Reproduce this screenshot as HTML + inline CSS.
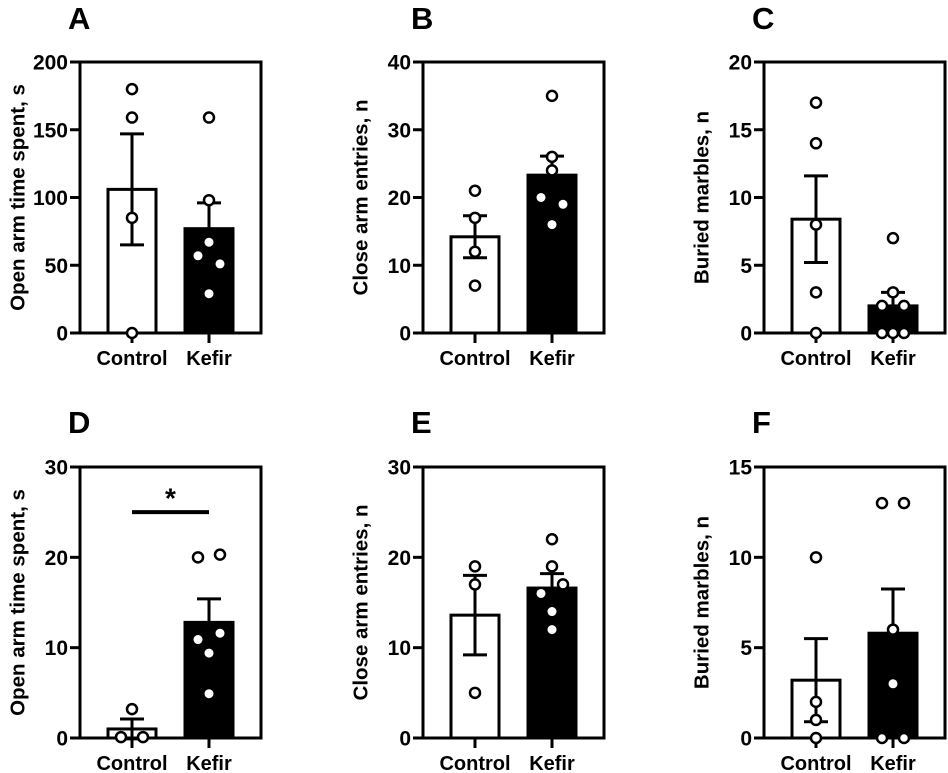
<!DOCTYPE html>
<html><head><meta charset="utf-8"><style>
html,body{margin:0;padding:0;background:#fff;}
svg{display:block;font-family:"Liberation Sans",Arial,sans-serif;font-weight:bold;}
</style></head><body>
<svg id="fig" width="948" height="773" viewBox="0 0 948 773" xmlns="http://www.w3.org/2000/svg"></svg>
<script>
// ---- data ----
const categories = ["Control", "Kefir"];
const panelLetters = ["A","B","C","D","E","F"];
const yTitles = ["Open arm time spent, s","Close arm entries, n","Buried marbles, n","Open arm time spent, s","Close arm entries, n","Buried marbles, n"];
const yMaxes = [200, 40, 20, 30, 30, 15];
const yTickSteps = [50, 10, 5, 10, 10, 5];
const meansA = [106, 77];  const semA = [41, 19];
const meansB = [14.2, 23.3]; const semB = [3.1, 2.8];
const meansC = [8.4, 2.0]; const semC = [3.2, 1.0];
const meansD = [1.0, 12.8]; const semD = [1.1, 2.6];
const meansE = [13.6, 16.6]; const semE = [4.4, 1.6];
const meansF = [3.2, 5.8]; const semF = [2.3, 2.45];
// individual points: [value, swarm slot (-1 left, 0 centre, 1 right)]
const ptsA = [[[180,0],[159,0],[85,0],[0,0]], [[159,0],[98,0],[67,0],[57,-1],[51,1],[29,0]]];
const ptsB = [[[21,0],[17,0],[12,0],[7,0]], [[35,0],[26,0],[24,0],[20,-1],[19,1],[16,0]]];
const ptsC = [[[17,0],[14,0],[8,0],[3,0],[0,0]], [[7,0],[3,0],[2,-1],[2,1],[0,-1],[0,0],[0,1]]];
const ptsD = [[[3.2,0],[0.1,-1],[0.1,1]], [[20,-1],[20.3,1],[11.6,1],[10.9,-1],[9.4,0],[4.9,0]]];
const ptsE = [[[19,0],[17,0],[5,0]], [[22,0],[19,0],[17,1],[16,-1],[14,0],[12,0]]];
const ptsF = [[[10,0],[2,0],[1,0],[0,0]], [[13,-1],[13,1],[6,0],[3,0],[0,-1],[0,1]]];
const sigBarD = [25, 27.3]; // line value, asterisk value

const means=[meansA,meansB,meansC,meansD,meansE,meansF];
const sems=[semA,semB,semC,semD,semE,semF];
const pts=[ptsA,ptsB,ptsC,ptsD,ptsE,ptsF];

const NS="http://www.w3.org/2000/svg";
const svg=document.getElementById('fig');
function mk(tag,attrs,parent){const e=document.createElementNS(NS,tag);for(const k in attrs)e.setAttribute(k,attrs[k]);(parent||svg).appendChild(e);return e;}

const lefts=[80,423,764];
const tops=[62,467];
const W=181,H=271;
for(let p=0;p<6;p++){
  const col=p%3,row=Math.floor(p/3);
  const x0=lefts[col],y0=tops[row],y1=y0+H;
  const g=mk('g',{});
  
  
  const ys=v=>y1-v/yMaxes[p]*H;
  const xc=i=>x0+52+i*77;
  const L=mk('text',{x:x0-12,y:row?433:29,'font-size':31,'text-anchor':'start'},g);
  L.textContent=panelLetters[p];
  
  
  const cy=(y0+y1)/2, tx=x0-61;
  const T=mk('text',{x:tx,y:cy,'font-size':20.5,'text-anchor':'middle',transform:`rotate(-90 ${tx} ${cy})`,'dominant-baseline':'middle'},g);
  T.textContent=yTitles[p];
  
  
  for(let i=0;i<2;i++){
    const m=means[p][i],s=sems[p][i],cx=xc(i);
    const b=mk('rect',{x:cx-24,y:ys(m),width:48,height:y1-ys(m),fill:i?'#000':'#fff',stroke:'#000','stroke-width':3},g);
    
    
    const e=mk('path',{d:`M${cx},${ys(m-s)}V${ys(m+s)}M${cx-12},${ys(m+s)}H${cx+12}M${cx-12},${ys(m-s)}H${cx+12}`,stroke:'#000','stroke-width':3,fill:'none'},g);
    
    
  }
  const f=mk('rect',{x:x0,y:y0,width:W,height:H,fill:'none',stroke:'#000','stroke-width':3},g);
  
  
  for(let v=0;v<=yMaxes[p]+1e-9;v+=yTickSteps[p]){
    mk('line',{x1:x0-10,x2:x0,y1:ys(v),y2:ys(v),stroke:'#000','stroke-width':3},g);
    const t=mk('text',{x:x0-12,y:ys(v)+7.5,'font-size':21,'text-anchor':'end'},g);
    t.textContent=v;
    
    
  }
  for(let i=0;i<2;i++){
    mk('line',{x1:xc(i),x2:xc(i),y1:y1,y2:y1+10,stroke:'#000','stroke-width':3},g);
    const t=mk('text',{x:xc(i),y:y1+32,'font-size':20,'text-anchor':'middle'},g);
    t.textContent=categories[i];
    
    
  }
  for(let i=0;i<2;i++){
    for(const [v,slot] of pts[p][i]){
      const inside=i===1 && ys(v)>ys(means[p][i])+5 && ys(v)<y1-5;
      const c=mk('circle',{cx:xc(i)+slot*11,cy:ys(v),r:inside?4.5:5,fill:'#fff',stroke:inside?'none':'#000','stroke-width':2.5},g);
      
      
    }
  }
  if(p===3){
    const s=mk('line',{x1:xc(0),x2:xc(1),y1:ys(sigBarD[0]),y2:ys(sigBarD[0]),stroke:'#000','stroke-width':4},g);
    
    
    const a=mk('text',{x:(xc(0)+xc(1))/2,y:ys(sigBarD[1])+16,'font-size':28,'text-anchor':'middle'},g);
    a.textContent='*';
    
    
  }
}
</script>
</body></html>
